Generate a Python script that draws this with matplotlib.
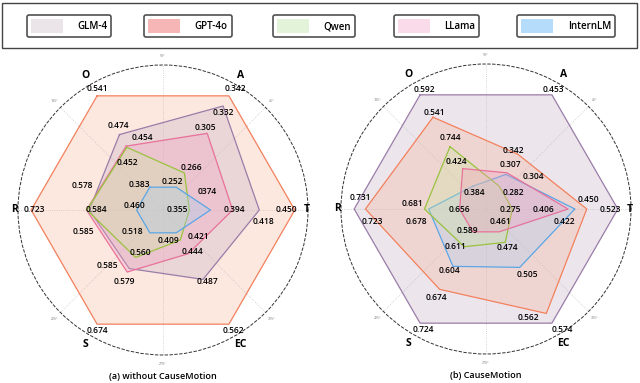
import numpy as np
import matplotlib.pyplot as plt
from matplotlib.patches import Patch, Rectangle

plt.rcParams['font.family'] = ['Open Sans', 'DejaVu Sans']

dims = ['O', 'A', 'T', 'EC', 'S', 'R']
models = ['GLM-4', 'GPT-4o', 'Qwen', 'LLama', 'InternLM']

# (a) without CauseMotion, values per dimension in the order of dims
glm_a = [0.474, 0.332, 0.418, 0.487, 0.579, 0.578]
gpt_a = [0.541, 0.342, 0.450, 0.562, 0.674, 0.723]
qwen_a = [0.452, 0.266, 0.355, 0.421, 0.560, 0.584]
llama_a = [0.454, 0.305, 0.394, 0.444, 0.585, 0.585]
intern_a = [0.383, 0.252, 0.374, 0.409, 0.518, 0.460]

# (b) CauseMotion
glm_b = [0.592, 0.453, 0.523, 0.574, 0.724, 0.731]
gpt_b = [0.541, 0.342, 0.450, 0.562, 0.674, 0.723]
qwen_b = [0.474, 0.282, 0.275, 0.474, 0.611, 0.681]
llama_b = [0.424, 0.307, 0.406, 0.461, 0.589, 0.656]
intern_b = [0.384, 0.304, 0.422, 0.505, 0.640, 0.678]

# printed text that differs from the drawn value in the original figure
label_fix_a = {('InternLM', 'T'): '0374'}
label_fix_b = {('Qwen', 'O'): '0.744', ('InternLM', 'S'): '0.604'}

# label placement, pixel offsets from the vertex (x right, y down)
off_a = {
    'GLM-4': [(-1, -9), (0, 7), (4, 12), (4, 2), (-5, 13), (-7, -25)],
    'GPT-4o': [(0, -7), (6, -7), (-8, 0), (4, 6), (0, 6), (3, 0)],
    'Qwen': [(1, 15), (7, -5), (-12, -1), (18, -3), (5, -5), (10, 0)],
    'LLama': [(16, -9), (-2, -6), (2, 0), (4, -2), (-20, -7), (-3, 21)],
    'InternLM': [(-10, -3), (-4, -6), (-3, -18), (-8, 8), (-17, -1), (-2, -4)],
}
off_b = {
    'GLM-4': [(4, -5), (1, -5), (-8, 1), (10, 6), (3, 6), (6, -11)],
    'GPT-4o': [(1, -5), (-4, -4), (2, -10), (-18, 4), (-3, 8), (7, 13)],
    'Qwen': [(0, -9), (14, 6), (-2, 1), (2, 5), (-9, 0), (-12, -6)],
    'LLama': [(-6, -7), (3, -8), (-25, 1), (1, -10), (-5, -1), (0, 0)],
    'InternLM': [(2, 6), (27, 2), (-10, 13), (8, 7), (-3, 4), (-12, 13)],
}

edge_col = {'GLM-4': '#9a7ca8', 'GPT-4o': '#f3805c', 'Qwen': '#9ac23f',
            'LLama': '#e8719b', 'InternLM': '#5aa6e6'}
fill_col = {'GLM-4': '#c4b2c6', 'GPT-4o': '#f9a78a', 'Qwen': '#cfe6a3',
            'LLama': '#f0a0c0', 'InternLM': '#a6cdf2'}
fill_alpha = {'GLM-4': 0.32, 'GPT-4o': 0.26, 'Qwen': 0.35,
              'LLama': 0.32, 'InternLM': 0.32}
legend_col = {'GLM-4': '#ebe5ea', 'GPT-4o': '#f5b6b5', 'Qwen': '#e3f3da',
              'LLama': '#fadbea', 'InternLM': '#b5dcfb'}

angles = np.deg2rad([120, 60, 0, 300, 240, 180])
dim_r = {'O': 1.18, 'A': 1.18, 'T': 1.09, 'EC': 1.18, 'S': 1.18, 'R': 1.13}
PX = 72 / 100.0


def radar(ax, series, fixes, offsets, title):
    arr = np.array(series)
    lo = arr.min(axis=0)
    hi = arr.max(axis=0)
    rn = 0.2 + 0.8 * (arr - lo) / (hi - lo)

    th = np.append(angles, angles[0])
    order = np.argsort(-rn.mean(axis=1))
    for k, i in enumerate(order):
        m = models[i]
        r = np.append(rn[i], rn[i][0])
        ax.fill(th, r, color=fill_col[m], alpha=fill_alpha[m], zorder=2 + k, lw=0)
        ax.plot(th, r, color=edge_col[m], lw=0.9, zorder=2 + k)

    for i, m in enumerate(models):
        for j, d in enumerate(dims):
            txt = fixes.get((m, d), '%.3f' % arr[i, j])
            dx, dy = offsets[m][j]
            ax.annotate(txt, xy=(angles[j], rn[i, j]), xytext=(dx * PX, -dy * PX),
                        textcoords='offset points', ha='center', va='center',
                        fontsize=6, fontweight='semibold', zorder=20,
                        annotation_clip=False)

    for j, d in enumerate(dims):
        ax.text(angles[j], dim_r[d], d, ha='center', va='center', fontsize=7.5,
                fontweight='bold', clip_on=False)

    ax.set_ylim(0, 1.1)
    ax.set_yticks([])
    ticks = list(range(0, 360, 45))
    ax.set_thetagrids(ticks, ['' if t in (0, 180) else '%d°' % t for t in ticks])
    ax.tick_params(axis='x', labelsize=2.5, labelcolor='#777777', pad=-4)
    ax.xaxis.grid(True, color='#c8c8c8', linestyle=':', linewidth=0.6)
    ax.spines['polar'].set_linestyle((0, (2.5, 2.5)))
    ax.spines['polar'].set_linewidth(0.7)
    ax.spines['polar'].set_color('#333333')
    ax.set_facecolor('none')
    ax.text(0.5, -0.075, title, transform=ax.transAxes, ha='center', va='center',
            fontsize=6.5, fontweight='semibold')


fig = plt.figure(figsize=(6.4, 3.83), dpi=100)

ax1 = fig.add_axes([18 / 640, 28 / 383, 290 / 640, 290 / 383], projection='polar')
radar(ax1, [glm_a, gpt_a, qwen_a, llama_a, intern_a], label_fix_a, off_a,
      '(a) without CauseMotion')

ax2 = fig.add_axes([341 / 640, 29 / 383, 290 / 640, 290 / 383], projection='polar')
radar(ax2, [glm_b, gpt_b, qwen_b, llama_b, intern_b], label_fix_b, off_b,
      '(b) CauseMotion')

# legend strip on top
fig.patches.append(Rectangle((2 / 640, 1 - 48 / 383), 635 / 640, 45 / 383,
                             transform=fig.transFigure, fill=False,
                             edgecolor='#444444', lw=1.0))
centers = [69, 188, 314, 436.5, 566]
for m, cx in zip(models, centers):
    h = Patch(facecolor=legend_col[m], edgecolor='none')
    lg = fig.legend([h], [m], loc='center', bbox_to_anchor=(cx / 640, 1 - 26 / 383),
                    fontsize=7, handlelength=3.3, handleheight=1.9,
                    handletextpad=1.5, borderpad=0.4, fancybox=True,
                    framealpha=1, edgecolor='#505050')
    lg.get_frame().set_linewidth(1.2)
    for t in lg.get_texts():
        t.set_fontweight('semibold')

fig.savefig('out.png', dpi=100)
